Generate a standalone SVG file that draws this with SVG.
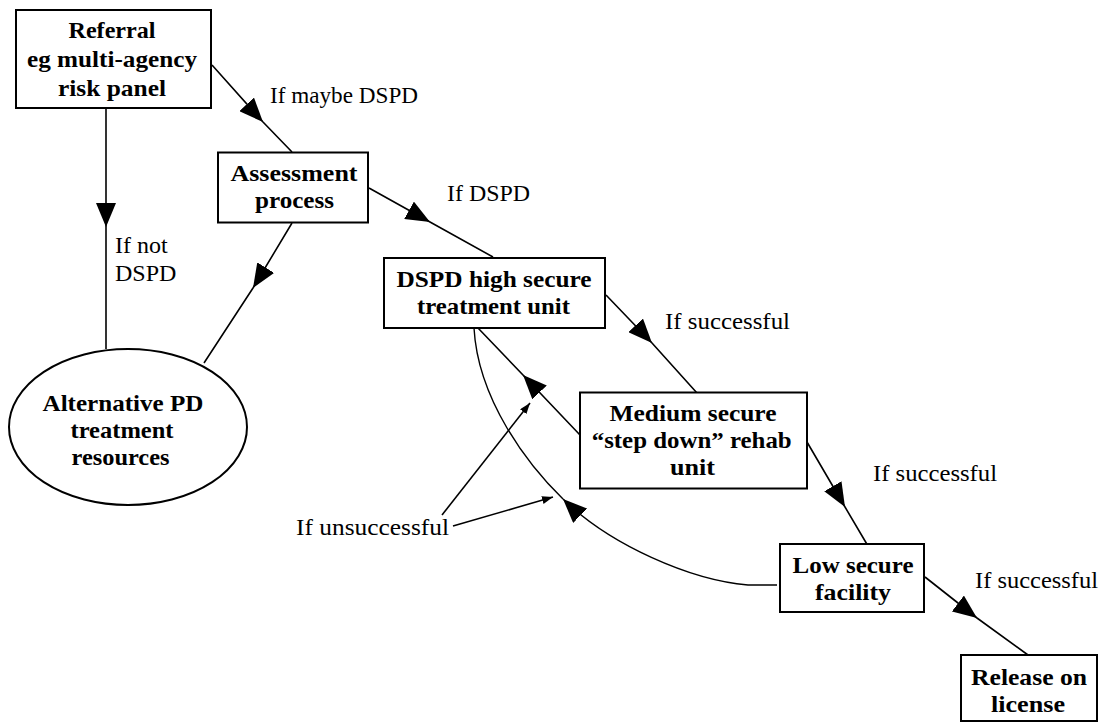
<svg xmlns="http://www.w3.org/2000/svg" width="1103" height="724" viewBox="0 0 1103 724">
<style>
.box{fill:#fff;stroke:#000;stroke-width:2}
.b{font-family:"Liberation Serif","Times New Roman",serif;font-weight:bold;font-size:24px;text-anchor:middle;fill:#000}
.r{font-family:"Liberation Serif","Times New Roman",serif;font-size:24px;fill:#000}
.c{fill:none;stroke:#000;stroke-width:1.6}
.big{marker-mid:url(#ah)}
</style>
<defs>
<marker id="ah" markerUnits="userSpaceOnUse" viewBox="0 0 24 20" refX="24" refY="10" markerWidth="24" markerHeight="20" orient="auto">
<path d="M0,0 L24,10 L0,20 Z" fill="#000"/>
</marker>
<marker id="ahEnd" markerUnits="userSpaceOnUse" viewBox="0 0 24 20" refX="24" refY="10" markerWidth="24" markerHeight="20" orient="auto">
<path d="M0,0 L24,10 L0,20 Z" fill="#000"/>
</marker>
<marker id="sm" markerUnits="userSpaceOnUse" viewBox="0 0 11 8" refX="11" refY="4" markerWidth="11" markerHeight="8" orient="auto">
<path d="M0,0 L11,4 L0,8 Z" fill="#000"/>
</marker>
</defs>
<g id="connectors">
<path class="c big" d="M212,65 L263,122 L292,152"/>
<path class="c big" d="M106,108 L106,227 L106,349"/>
<path class="c big" d="M292,223 L253,288 L204,363"/>
<path class="c big" d="M369,188 L430,222 L493,257"/>
<path class="c big" d="M606,295 L652,343 L697,393"/>
<path class="c big" d="M580,435 L523,375 L478,328"/>
<path class="c big" d="M807,442 L845,507 L868,546"/>
<path class="c big" d="M925,577 L977,618 L1028,655"/>
<path class="c" style="stroke-width:1.4" d="M777,585 L748,585 C690,580 610,545 563,499" marker-end="url(#ahEnd)"/>
<path class="c" style="stroke-width:1.4" d="M563,499 C528,465 478,400 474,328"/>
<path class="c" d="M442,515 L530,403" marker-end="url(#sm)"/>
<path class="c" d="M453,526 L553,497" marker-end="url(#sm)"/>
</g>
<g id="n-referral">
<rect class="box" x="16" y="10" width="195" height="98"/>
<text class="b" x="112" y="38" textLength="87" lengthAdjust="spacingAndGlyphs">Referral</text>
<text class="b" x="112" y="67" textLength="170" lengthAdjust="spacingAndGlyphs">eg multi-agency</text>
<text class="b" x="112" y="96" textLength="108" lengthAdjust="spacingAndGlyphs">risk panel</text>
</g>
<g id="n-assessment">
<rect class="box" x="218" y="152.5" width="150" height="70"/>
<text class="b" x="294" y="181" textLength="127" lengthAdjust="spacingAndGlyphs">Assessment</text>
<text class="b" x="294.5" y="208" textLength="79" lengthAdjust="spacingAndGlyphs">process</text>
</g>
<g id="n-dspd">
<rect class="box" x="384" y="258" width="221" height="70"/>
<text class="b" x="494" y="287" textLength="195" lengthAdjust="spacingAndGlyphs">DSPD high secure</text>
<text class="b" x="493.5" y="313.5" textLength="153" lengthAdjust="spacingAndGlyphs">treatment unit</text>
</g>
<g id="n-medium">
<rect class="box" x="580" y="392.5" width="227" height="96"/>
<text class="b" x="693" y="421" textLength="167" lengthAdjust="spacingAndGlyphs">Medium secure</text>
<text class="b" x="691.7" y="448.3" textLength="200" lengthAdjust="spacingAndGlyphs">“step down” rehab</text>
<text class="b" x="692.5" y="475" textLength="45" lengthAdjust="spacingAndGlyphs">unit</text>
</g>
<g id="n-low">
<rect class="box" x="780" y="544" width="144" height="68"/>
<text class="b" x="853" y="573" textLength="121" lengthAdjust="spacingAndGlyphs">Low secure</text>
<text class="b" x="853" y="600" textLength="76" lengthAdjust="spacingAndGlyphs">facility</text>
</g>
<g id="n-release">
<rect class="box" x="961" y="655" width="136" height="66"/>
<text class="b" x="1029" y="685" textLength="116" lengthAdjust="spacingAndGlyphs">Release on</text>
<text class="b" x="1028" y="711.7" textLength="74" lengthAdjust="spacingAndGlyphs">license</text>
</g>
<g id="n-alternative">
<ellipse class="box" cx="128" cy="427" rx="119" ry="78"/>
<text class="b" x="123" y="411" textLength="161" lengthAdjust="spacingAndGlyphs">Alternative PD</text>
<text class="b" x="122" y="438" textLength="103" lengthAdjust="spacingAndGlyphs">treatment</text>
<text class="b" x="120.5" y="465" textLength="98" lengthAdjust="spacingAndGlyphs">resources</text>
</g>
<g id="labels">
<text class="r" x="270" y="102.7" textLength="148" lengthAdjust="spacingAndGlyphs">If maybe DSPD</text>
<text class="r" x="447" y="201" textLength="83" lengthAdjust="spacingAndGlyphs">If DSPD</text>
<text class="r" x="115" y="252.7">If not</text>
<text class="r" x="115" y="280.7">DSPD</text>
<text class="r" x="665" y="329.3" textLength="125" lengthAdjust="spacingAndGlyphs">If successful</text>
<text class="r" x="873" y="480.7" textLength="124" lengthAdjust="spacingAndGlyphs">If successful</text>
<text class="r" x="975" y="588" textLength="123" lengthAdjust="spacingAndGlyphs">If successful</text>
<text class="r" x="296" y="535" textLength="153" lengthAdjust="spacingAndGlyphs">If unsuccessful</text>
</g>
</svg>
